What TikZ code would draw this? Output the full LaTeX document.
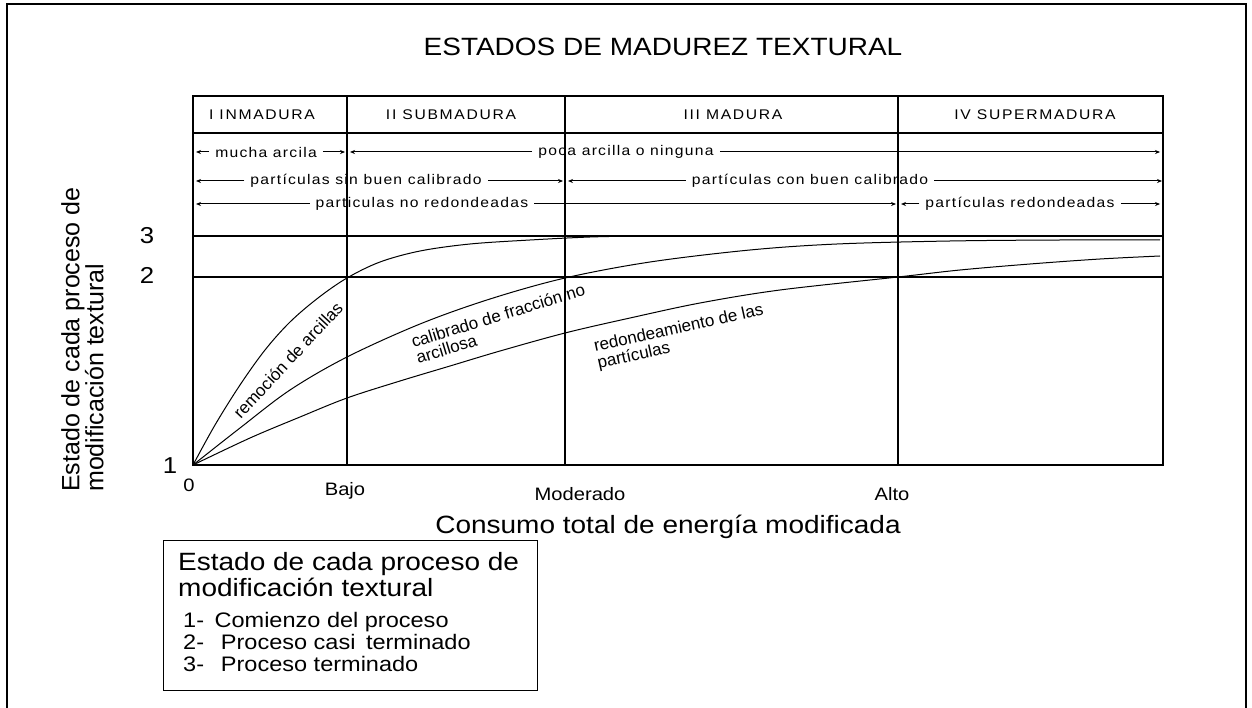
\documentclass[tikz,border=0pt]{standalone}
\usepackage{fontspec}
\setmainfont{Liberation Sans}[FakeStretch=1.12]
\newfontfamily\plainfont{Liberation Sans}
\usetikzlibrary{arrows.meta}
\newcommand{\fsz}[1]{\fontsize{#1}{#1}\selectfont}
\tikzset{
  frame/.style={line width=2.5pt},
  gridline/.style={line width=1.2pt},
  curve/.style={line width=1pt},
  hdrtxt/.style={font=\fsz{14}\addfontfeatures{LetterSpace=12}, inner sep=0pt},
  rowtxt/.style={font=\fsz{14}\addfontfeatures{LetterSpace=9}, inner xsep=6pt, inner ysep=0pt},
  arr/.style={line width=1pt, -{Stealth[length=5pt,width=4pt]}},
  ticklbl/.style={font=\fsz{18}, inner sep=0pt},
  numlbl/.style={font=\fsz{23}, inner sep=0pt},
  curvelbl/.style={font=\plainfont\fsz{17}, inner sep=0pt, align=left},
  big/.style={font=\fsz{25}, inner sep=0pt},
  item/.style={font=\fsz{21}, inner sep=0pt, anchor=base west},
}
\begin{document}
\begin{tikzpicture}[x=1pt,y=-1pt]
\useasboundingbox (0,0) rectangle (1252,708);
\draw[frame] (7,712) -- (7,4) -- (1246,4) -- (1246,712);
\node[big] (title) at (663,47) {ESTADOS DE MADUREZ TEXTURAL};
% grid
\draw[gridline] (193,96) rectangle (1163,465);
\draw[gridline] (193,133) -- (1163,133);
\draw[gridline] (193,236) -- (1163,236);
\draw[gridline] (193,277) -- (1163,277);
\foreach \x in {347,565,898} \draw[gridline] (\x,96) -- (\x,465);
% headers
\node[hdrtxt] (h1) at (262,115) {I INMADURA};
\node[hdrtxt] (h2) at (451,115) {II SUBMADURA};
\node[hdrtxt] (h3) at (733,115) {III MADURA};
\node[hdrtxt] (h4) at (1035,115) {IV SUPERMADURA};
% row 1
\node[rowtxt] (r1a) at (266,152) {mucha arcila};
\coordinate (r1aL) at (196,152); \coordinate (r1aR) at (345,152);
\draw[arr] (r1a.west) -- (r1aL); \draw[arr] (r1a.east) -- (r1aR);
\node[rowtxt] (r1b) at (626,152) {poca arcilla o ninguna};
\coordinate (r1bL) at (350,152); \coordinate (r1bR) at (1160,152);
\draw[arr] (r1b.west) -- (r1bL); \draw[arr] (r1b.east) -- (r1bR);
% row 2
\node[rowtxt] (r2a) at (366,181) {partículas sin buen calibrado};
\coordinate (r2aL) at (196,181); \coordinate (r2aR) at (563,181);
\draw[arr] (r2a.west) -- (r2aL); \draw[arr] (r2a.east) -- (r2aR);
\node[rowtxt] (r2b) at (810,181) {partículas con buen calibrado};
\coordinate (r2bL) at (568,181); \coordinate (r2bR) at (1162,181);
\draw[arr] (r2b.west) -- (r2bL); \draw[arr] (r2b.east) -- (r2bR);
% row 3
\node[rowtxt] (r3a) at (422,204) {particulas no redondeadas};
\coordinate (r3aL) at (196,204); \coordinate (r3aR) at (896,204);
\draw[arr] (r3a.west) -- (r3aL); \draw[arr] (r3a.east) -- (r3aR);
\node[rowtxt] (r3b) at (1020,204) {partículas redondeadas};
\coordinate (r3bL) at (901,204); \coordinate (r3bR) at (1160,204);
\draw[arr] (r3b.west) -- (r3bL); \draw[arr] (r3b.east) -- (r3bR);
% curves
\draw[curve] plot[smooth, tension=0.55] coordinates {(193,465) (215,425) (240,385) (265,350) (290,322) (318,298) (347,278) (380,262) (420,251) (470,244) (530,240) (590,237) (640,236)};
\draw[curve] plot[smooth, tension=0.55] coordinates {(193,465) (240,428) (290,390) (347,357) (420,324) (490,299) (565,278) (650,262) (750,250) (837,244) (950,241) (1060,240) (1160,240)};
\draw[curve] plot[smooth, tension=0.55] coordinates {(193,465) (250,438) (300,417) (347,398) (400,381) (450,366) (500,351) (565,333) (630,318) (700,303) (780,290) (898,277) (960,270) (1030,264) (1100,259) (1160,256)};
% curve labels
\node[curvelbl, rotate=47] (cA) at (288,360) {remoción de arcillas};
\node[curvelbl, rotate=17, anchor=west] (cB) at (414,350) {calibrado de fracción no\\arcillosa};
\node[curvelbl, rotate=12.5, anchor=west] (cC) at (596,356) {redondeamiento de las\\partículas};
% y numbers
\node[numlbl] (n3) at (147,236) {3};
\node[numlbl] (n2) at (147,275) {2};
\node[numlbl] (n1) at (170,466) {1};
% x ticks
\node[ticklbl] (t0) at (189,485) {0};
\node[ticklbl] (t1) at (345,491) {Bajo};
\node[ticklbl] (t2) at (580,494) {Moderado};
\node[ticklbl] (t3) at (892,494) {Alto};
\node[big] (xt) at (668,527) {Consumo total de energía modificada};
% y title
\node[font=\plainfont\fontsize{25}{24}\selectfont, inner sep=0pt, rotate=90, align=left, anchor=north west] (yt) at (61,492) {Estado de cada proceso de\\modificación textural};
% legend
\node[draw, line width=1.2pt, minimum width=374pt, minimum height=150pt, anchor=north west, inner sep=0pt] (legend) at (163,540) {};
\node[big, anchor=base west] (lg1) at (178,570) {Estado de cada proceso de};
\node[big, anchor=base west] (lg2) at (178,596) {modificación textural};
\node[item] (i1) at (183,627) {1-\hspace{0.5em}Comienzo del proceso};
\node[item] (i2) at (183,649) {2-\hspace{0.8em}Proceso casi\hspace{0.5em}terminado};
\node[item] (i3) at (183,671) {3-\hspace{0.8em}Proceso terminado};
\end{tikzpicture}
\end{document}
